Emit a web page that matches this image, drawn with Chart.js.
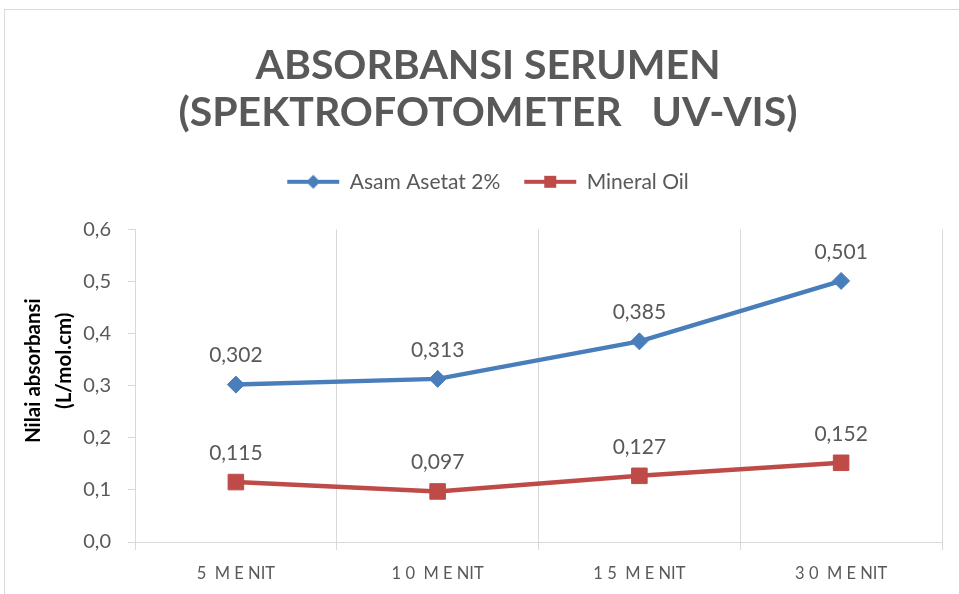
<!DOCTYPE html>
<html>
<head>
<meta charset="utf-8">
<script src="https://cdn.jsdelivr.net/npm/chart.js@4.4.0/dist/chart.umd.min.js"></script>
<style>
  html, body { margin: 0; padding: 0; background: #fff; }
</style>
</head>
<body>
<canvas id="absChart" width="959" height="594"></canvas>
<script>
const categories = ['5  M E NIT', '1 0  M E NIT', '1 5  M E NIT', '3 0  M E NIT'];
const asamAsetat = [0.302, 0.313, 0.385, 0.501];
const mineralOil = [0.115, 0.097, 0.127, 0.152];
const yTicks = [0, 0.1, 0.2, 0.3, 0.4, 0.5, 0.6];

const BLUE = '#4a7ebb';
const RED = '#be4b48';
const GREY = '#595959';
const GRID = '#d9d9d9';

// line + marker swatch for the legend (a bit wider than the box so the text sits close)
function legendMark(color, shape) {
    const c = document.createElement('canvas');
    c.width = 58;
    c.height = 16;
    const g = c.getContext('2d');
    g.strokeStyle = color;
    g.lineWidth = 4;
    g.beginPath();
    g.moveTo(3, 8);
    g.lineTo(55, 8);
    g.stroke();
    g.fillStyle = color;
    if (shape === 'diamond') {
        g.beginPath();
        g.moveTo(29, 1);
        g.lineTo(36, 8);
        g.lineTo(29, 15);
        g.lineTo(22, 8);
        g.closePath();
        g.fill();
    } else {
        g.fillRect(23, 2, 12, 12);
    }
    return c;
}
const legendMarks = [legendMark(BLUE, 'diamond'), legendMark(RED, 'square')];

const fmt = v => v.toFixed(3).replace('.', ',');

const frame = {
    id: 'frame',
    beforeDraw(chart) {
        const ctx = chart.ctx;
        ctx.save();
        ctx.fillStyle = '#fff';
        ctx.fillRect(0, 0, chart.width, chart.height);
        ctx.strokeStyle = GRID;
        ctx.lineWidth = 1;
        ctx.strokeRect(4.5, 9.5, 1000, 1000);
        ctx.restore();
    }
};

const valueLabels = {
    id: 'valueLabels',
    afterDatasetsDraw(chart) {
        const ctx = chart.ctx;
        ctx.save();
        ctx.font = '21px Lato';
        ctx.fillStyle = GREY;
        ctx.textAlign = 'center';
        ctx.textBaseline = 'middle';
        chart.data.datasets.forEach((ds, i) => {
            chart.getDatasetMeta(i).data.forEach((pt, j) => {
                ctx.fillText(fmt(ds.data[j]), pt.x, pt.y - 29);
            });
        });
        ctx.restore();
    }
};

const ctx = document.getElementById('absChart').getContext('2d');

const absChart = new Chart(ctx, {
    type: 'line',
    data: {
        labels: categories,
        datasets: [
            {
                label: 'Asam Asetat 2%',
                data: asamAsetat,
                borderColor: BLUE,
                backgroundColor: BLUE,
                borderWidth: 4.5,
                pointStyle: 'rectRot',
                pointRadius: 8.5,
                pointBorderWidth: 1,
                fill: false
            },
            {
                label: 'Mineral Oil',
                data: mineralOil,
                borderColor: RED,
                backgroundColor: RED,
                borderWidth: 4.5,
                pointStyle: 'rect',
                pointRadius: 11,
                pointBorderWidth: 1,
                fill: false
            }
        ]
    },
    options: {
        responsive: false,
        animation: false,
        layout: { padding: { top: 0, left: 17, right: 0, bottom: 0 } },
        plugins: {
            title: {
                display: true,
                text: ['ABSORBANSI SERUMEN', '(SPEKTROFOTOMETER   UV-VIS)'],
                color: GREY,
                font: { family: 'Lato', size: 41, weight: 'bold', lineHeight: 1.15 },
                padding: { top: 42, bottom: 11 }
            },
            subtitle: {
                // spacer between legend and plot
                display: true,
                text: '',
                weight: 500,
                font: { size: 10, lineHeight: 1 },
                padding: { top: 17, bottom: 0 }
            },
            legend: {
                display: true,
                labels: {
                    usePointStyle: true,
                    pointStyleWidth: 52,
                    color: GREY,
                    font: { family: 'Lato', size: 21 },
                    padding: 24,
                    generateLabels(chart) {
                        const items = Chart.defaults.plugins.legend.labels.generateLabels(chart);
                        items.forEach((it, i) => { it.pointStyle = legendMarks[i]; });
                        return items;
                    }
                }
            },
            tooltip: { enabled: false }
        },
        scales: {
            x: {
                offset: true,
                grid: { offset: true, color: GRID, tickLength: 8 },
                border: { color: GRID },
                ticks: { color: GREY, font: { family: 'Lato', size: 16.5 }, padding: 14 },
                afterFit(scale) { scale.height = 52; }
            },
            y: {
                min: 0,
                max: 0.6,
                afterBuildTicks(scale) { scale.ticks = yTicks.map(v => ({ value: v })); },
                grid: { drawOnChartArea: false, color: GRID, tickLength: 7 },
                border: { color: GRID },
                ticks: {
                    color: GREY,
                    font: { family: 'Lato', size: 20 },
                    padding: 17,
                    callback: v => v.toFixed(1).replace('.', ',')
                },
                title: {
                    display: true,
                    text: ['      Nilai absorbansi', '          (L/mol.cm)'],
                    color: '#000',
                    font: { family: 'Lato', size: 20.5, weight: 'bold', lineHeight: 1.5 },
                    padding: { top: 1, bottom: 0 }
                },
                afterFit(scale) { scale.width = 118; }
            },
            yRight: {
                position: 'right',
                display: true,
                grid: { display: false },
                border: { display: false },
                ticks: { display: false },
                afterFit(scale) { scale.width = 17; }
            }
        }
    },
    plugins: [frame, valueLabels]
});
</script>
</body>
</html>
